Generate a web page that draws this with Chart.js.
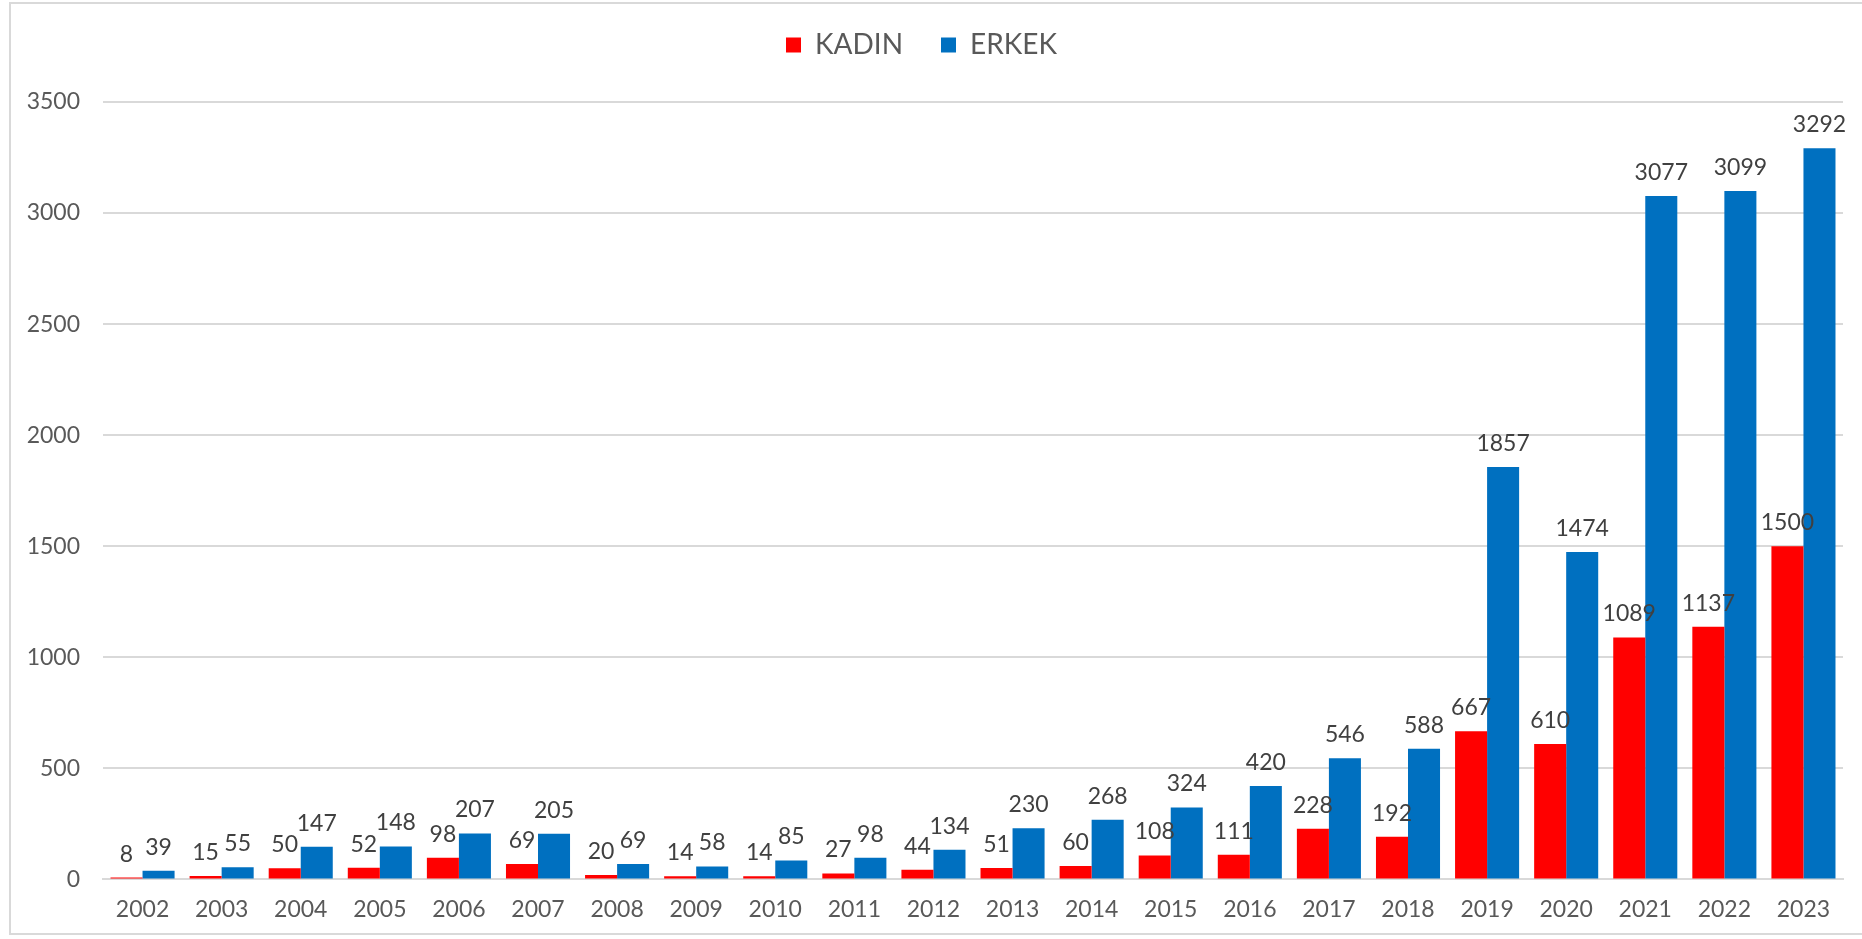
<!DOCTYPE html>
<html>
<head>
<meta charset="utf-8">
<script src="https://cdn.jsdelivr.net/npm/chart.js@4"></script>
<style>
  html, body { margin: 0; padding: 0; background: #fff; overflow: hidden; }
  #frame { position: absolute; left: 9px; top: 2px; width: 1870px; height: 933px; border: 2px solid #d9d9d9; box-sizing: border-box; }
  #wrap { position: absolute; left: 0; top: 0; width: 1862px; height: 939px; }
</style>
</head>
<body>
<div id="frame"></div>
<div id="wrap"><canvas id="chart"></canvas></div>
<script>
const years = ['2002', '2003', '2004', '2005', '2006', '2007', '2008', '2009', '2010', '2011', '2012',
               '2013', '2014', '2015', '2016', '2017', '2018', '2019', '2020', '2021', '2022', '2023'];
const kadin = [8, 15, 50, 52, 98, 69, 20, 14, 14, 27, 44, 51, 60, 108, 111, 228, 192, 667, 610, 1089, 1137, 1500];
const erkek = [39, 55, 147, 148, 207, 205, 69, 58, 85, 98, 134, 230, 268, 324, 420, 546, 588, 1857, 1474, 3077, 3099, 3292];

const fontFamily = 'Lato, "DejaVu Sans", sans-serif';
const textColor = '#595959';

// değer etiketleri (çubuğun üstünde)
const valueLabels = {
    id: 'valueLabels',
    afterDatasetsDraw(chart) {
        const ctx = chart.ctx;
        ctx.save();
        ctx.font = '23px ' + fontFamily;
        ctx.fillStyle = '#404040';
        ctx.textAlign = 'center';
        ctx.textBaseline = 'bottom';
        chart.data.datasets.forEach((ds, i) => {
            chart.getDatasetMeta(i).data.forEach((bar, j) => {
                ctx.fillText(ds.data[j], bar.x, bar.y - 12);
            });
        });
        ctx.restore();
    }
};

// lejant ile grafik alanı arasına boşluk
const legendGap = {
    id: 'legendGap',
    afterInit(chart) {
        const origFit = chart.legend.fit;
        chart.legend.fit = function () {
            origFit.call(this);
            this.height += 33;
        };
    }
};

new Chart(document.getElementById('chart'), {
    type: 'bar',
    data: {
        labels: years,
        datasets: [
            { label: 'KADIN', data: kadin, backgroundColor: '#ff0000' },
            { label: 'ERKEK', data: erkek, backgroundColor: '#0070c0' }
        ]
    },
    options: {
        responsive: true,
        maintainAspectRatio: false,
        animation: false,
        layout: { padding: { left: 0, right: 19, top: -7, bottom: 0 } },
        datasets: { bar: { categoryPercentage: 0.81, barPercentage: 1.0 } },
        plugins: {
            tooltip: { enabled: false },
            legend: {
                position: 'top',
                labels: {
                    font: { family: fontFamily, size: 28 },
                    color: textColor,
                    boxWidth: 15,
                    boxHeight: 15,
                    padding: 38
                }
            }
        },
        scales: {
            x: {
                grid: { display: false, drawTicks: false },
                border: { color: '#d9d9d9', width: 2 },
                ticks: { font: { family: fontFamily, size: 23 }, color: textColor, padding: 16 }
            },
            y: {
                min: 0,
                max: 3500,
                afterFit(scale) { scale.width = 103; },
                grid: { color: '#d9d9d9', lineWidth: 2, drawTicks: false },
                border: { display: false },
                ticks: {
                    stepSize: 500,
                    font: { family: fontFamily, size: 23 },
                    color: textColor,
                    padding: 23,
                    callback: v => String(v)
                }
            }
        }
    },
    plugins: [valueLabels, legendGap]
});
</script>
</body>
</html>
